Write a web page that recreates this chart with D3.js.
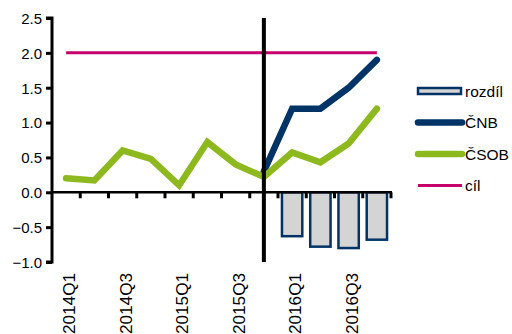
<!DOCTYPE html>
<html lang="cs">
<head>
  <meta charset="UTF-8">
  <title>ČNB vs ČSOB</title>
  <style>
    body { margin: 0; background: #fff; }
    svg { display: block; font-family: "Liberation Sans", Arial, sans-serif; }
    .tick text { font-size: 15px; fill: #000; }
    .legend text { font-size: 15.5px; }
  </style>
  <script src="https://d3js.org/d3.v7.min.js"></script>
</head>
<body>
  <svg width="512" height="334"></svg>
  <script>
    const quarters = ["2014Q1", "2014Q2", "2014Q3", "2014Q4", "2015Q1", "2015Q2",
                      "2015Q3", "2015Q4", "2016Q1", "2016Q2", "2016Q3", "2016Q4"];
    const shownLabels = ["2014Q1", "2014Q3", "2015Q1", "2015Q3", "2016Q1", "2016Q3"];
    const csob = [0.2, 0.17, 0.6, 0.48, 0.1, 0.72, 0.4, 0.22, 0.57, 0.43, 0.7, 1.2];
    const cnb = [null, null, null, null, null, null, null, 0.3, 1.2, 1.2, 1.5, 1.9];
    const rozdil = [null, null, null, null, null, null, null, null, -0.63, -0.78, -0.8, -0.68];
    const cil = [2, 2, 2, 2, 2, 2, 2, 2, 2, 2, 2, 2];
    const yTicks = [-1.0, -0.5, 0.0, 0.5, 1.0, 1.5, 2.0, 2.5];
    const splitAt = "2015Q4";

    const svg = d3.select("svg");
    const margin = { left: 52, right: 121, top: 18, bottom: 72 };
    const width = 512, height = 334;

    const x = d3.scaleBand().domain(quarters)
      .range([margin.left, width - margin.right]).paddingInner(0.28).paddingOuter(0.14);
    const xc = d => x(d) + x.bandwidth() / 2;
    const y = d3.scaleLinear().domain([-1, 2.5]).range([height - margin.bottom, margin.top]);

    const navy = "#003366", green = "#8db81e", pink = "#c6006b";

    // bars for difference
    svg.append("g").selectAll("rect")
      .data(quarters.map((q, i) => ({ q, v: rozdil[i] })).filter(d => d.v != null))
      .enter().append("rect")
      .attr("x", d => x(d.q))
      .attr("y", y(0))
      .attr("width", x.bandwidth())
      .attr("height", d => y(d.v) - y(0))
      .attr("fill", "#d4d4d4")
      .attr("stroke", navy)
      .attr("stroke-width", 2.5);

    // axes
    const band = x.step();
    const xAxis = svg.append("g")
      .attr("transform", `translate(0,${y(0)})`);
    xAxis.append("line")
      .attr("x1", margin.left).attr("x2", width - margin.right + 1)
      .attr("stroke", "#000").attr("stroke-width", 2.5);
    xAxis.selectAll(".xt")
      .data(d3.range(1, quarters.length + 1))
      .enter().append("line")
      .attr("x1", i => x(quarters[0]) - x.step() * x.paddingOuter() + i * band)
      .attr("x2", i => x(quarters[0]) - x.step() * x.paddingOuter() + i * band)
      .attr("y1", 0).attr("y2", 6)
      .attr("stroke", "#000").attr("stroke-width", 3);

    const yAxis = svg.append("g")
      .attr("transform", `translate(${margin.left},0)`)
      .call(d3.axisLeft(y).tickValues(yTicks).tickFormat(d3.format(".1f")).tickSize(6).tickPadding(4));
    yAxis.select(".domain").attr("stroke-width", 3).attr("d",
      `M-6,${y(2.5)}H0V${y(-1)}H-6`);
    yAxis.selectAll(".tick line").attr("stroke-width", 3);
    yAxis.selectAll(".tick text").attr("dy", "0.36em");

    // x labels
    svg.append("g").selectAll("text")
      .data(shownLabels)
      .enter().append("text")
      .attr("transform", d => `translate(${xc(d) + 9},${y(-1) + 11}) rotate(-90)`)
      .attr("text-anchor", "end")
      .attr("textLength", 61)
      .attr("lengthAdjust", "spacingAndGlyphs")
      .style("font-size", "16px")
      .text(d => d);

    // lines
    const line = d3.line()
      .defined(d => d.v != null)
      .x(d => xc(d.q)).y(d => y(d.v));
    const series = (arr) => quarters.map((q, i) => ({ q, v: arr[i] }));

    svg.append("path").datum(series(cil))
      .attr("d", line).attr("fill", "none")
      .attr("stroke", pink).attr("stroke-width", 3);
    svg.append("path").datum(series(cnb))
      .attr("d", line).attr("fill", "none")
      .attr("stroke", navy).attr("stroke-width", 6.5).attr("stroke-linecap", "round");
    svg.append("path").datum(series(csob))
      .attr("d", line).attr("fill", "none")
      .attr("stroke", green).attr("stroke-width", 6.5).attr("stroke-linecap", "round");

    // split line
    svg.append("line")
      .attr("x1", xc(splitAt)).attr("x2", xc(splitAt))
      .attr("y1", y(2.5)).attr("y2", y(-1))
      .attr("stroke", "#000").attr("stroke-width", 4);

    // legend
    const legend = svg.append("g").attr("class", "legend")
      .attr("transform", "translate(418,91)");
    const items = [
      { name: "rozdíl", type: "box" },
      { name: "ČNB", color: navy, w: 6.5 },
      { name: "ČSOB", color: green, w: 6.5 },
      { name: "cíl", color: pink, w: 3 }
    ];
    items.forEach((it, i) => {
      const g = legend.append("g").attr("transform", `translate(0,${i * 31.5})`);
      if (it.type === "box") {
        g.append("rect").attr("x", 0).attr("y", -3).attr("width", 43).attr("height", 6)
          .attr("fill", "#d4d4d4").attr("stroke", navy).attr("stroke-width", 2.5);
      } else {
        g.append("line").attr("x1", 0).attr("x2", 44)
          .attr("stroke", it.color).attr("stroke-width", it.w).attr("stroke-linecap", it.w > 4 ? "round" : "butt");
      }
      g.append("text").attr("x", 47).attr("dy", "0.36em").text(it.name);
    });
  </script>
</body>
</html>
